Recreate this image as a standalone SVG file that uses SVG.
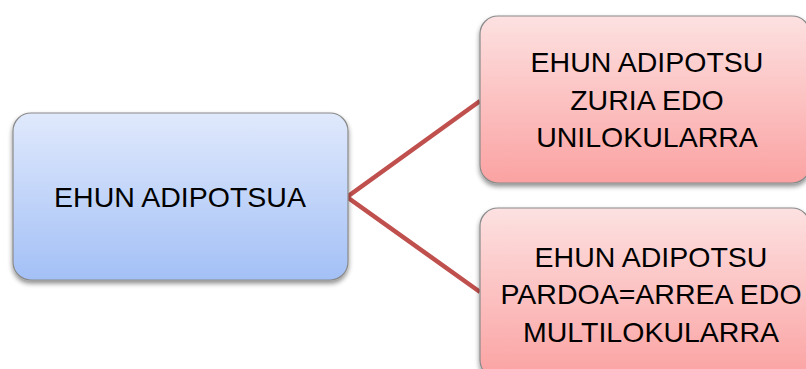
<svg xmlns="http://www.w3.org/2000/svg" width="806" height="369" viewBox="0 0 806 369">
  <style>
    .box { stroke: #8a8a8a; stroke-width: 1.2; filter: url(#shadow); }
    .blue { fill: url(#gBlue); }
    .red { fill: url(#gRed); }
    .label { font-family: "Liberation Sans", Arial, sans-serif; font-size: 28.5px; fill: #000; text-anchor: middle; }
    .link { stroke: #c0504d; stroke-width: 4.5; fill: none; stroke-linejoin: miter; }
  </style>
  <defs>
    <linearGradient id="gBlue" x1="0" y1="0" x2="0" y2="1">
      <stop offset="0" stop-color="#e0e9fc"/>
      <stop offset="1" stop-color="#a3c0f6"/>
    </linearGradient>
    <linearGradient id="gRed" x1="0" y1="0" x2="0" y2="1">
      <stop offset="0" stop-color="#fde1e1"/>
      <stop offset="1" stop-color="#fba2a2"/>
    </linearGradient>
    <filter id="shadow" x="-10%" y="-10%" width="120%" height="130%">
      <feGaussianBlur in="SourceAlpha" stdDeviation="2.5"/>
      <feOffset dx="0" dy="3" result="b"/>
      <feComponentTransfer><feFuncA type="linear" slope="0.45"/></feComponentTransfer>
      <feMerge><feMergeNode/><feMergeNode in="SourceGraphic"/></feMerge>
    </filter>
  </defs>

  <g id="connectors">
    <polyline class="link" points="480,101 347,197 480,292"/>
  </g>

  <g id="node-root">
    <rect class="box blue" x="13" y="113" width="335" height="167" rx="18"/>
    <text class="label" x="180" y="207">EHUN ADIPOTSUA</text>
  </g>

  <g id="node-white">
    <rect class="box red" x="480" y="16" width="330" height="167" rx="18"/>
    <text class="label" x="647" y="72">EHUN ADIPOTSU</text>
    <text class="label" x="647" y="110">ZURIA EDO</text>
    <text class="label" x="647" y="147">UNILOKULARRA</text>
  </g>

  <g id="node-brown">
    <rect class="box red" x="480" y="208" width="330" height="170" rx="18"/>
    <text class="label" x="651" y="267">EHUN ADIPOTSU</text>
    <text class="label" x="651" y="304">PARDOA=ARREA EDO</text>
    <text class="label" x="651" y="342">MULTILOKULARRA</text>
  </g>
</svg>
